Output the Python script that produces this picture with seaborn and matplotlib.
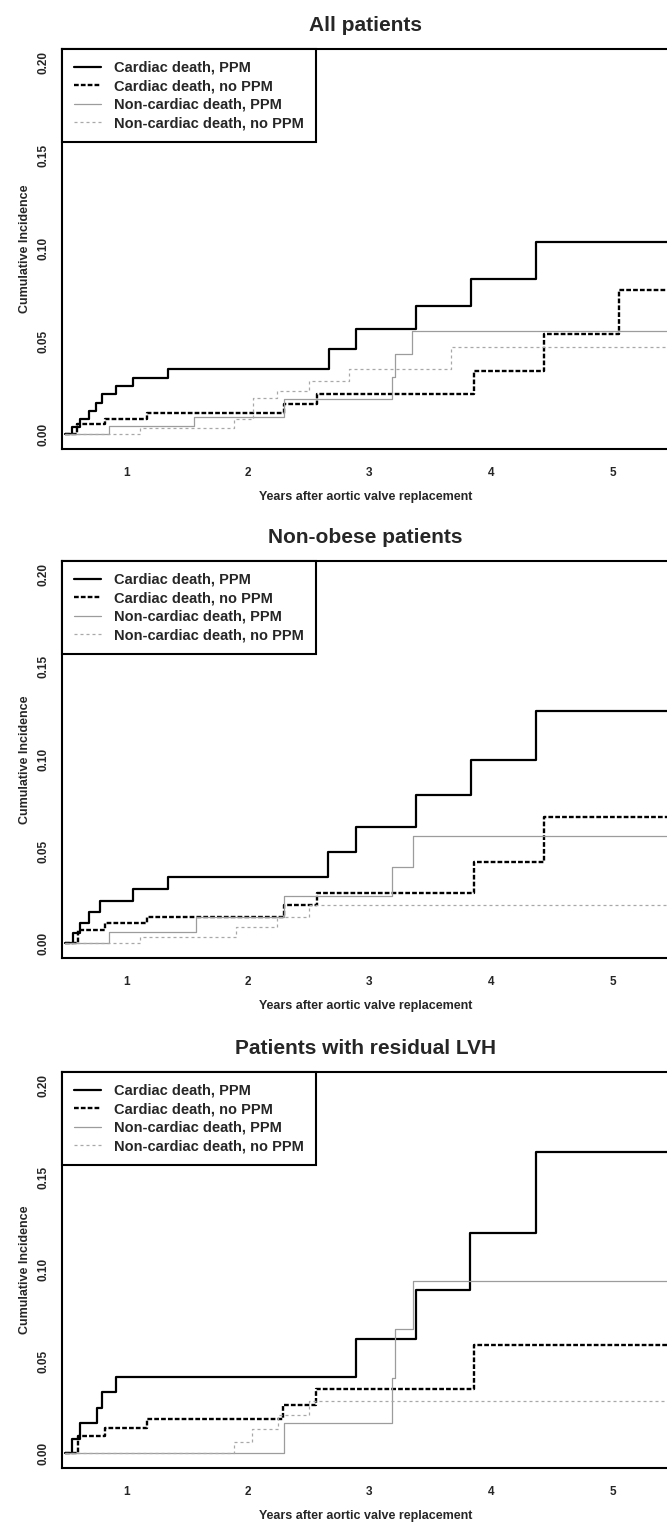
import numpy as np
import pandas as pd
import matplotlib
matplotlib.use("Agg")
import matplotlib.pyplot as plt
from matplotlib.lines import Line2D
import seaborn as sns

sns.set_style("white")
plt.rcParams['font.family'] = ['Liberation Sans', 'DejaVu Sans']
plt.rcParams['font.weight'] = 'bold'

# ---------------- data (years, cumulative incidence) ----------------
TITLES = ["All patients", "Non-obese patients", "Patients with residual LVH"]
SERIES = ["Cardiac death, PPM", "Cardiac death, no PPM",
          "Non-cardiac death, PPM", "Non-cardiac death, no PPM"]
FOLLOWUP_END = 5.6

# All patients
all_cd_ppm_t = [0.50, 0.552, 0.621, 0.695, 0.753, 0.800, 0.918, 1.052, 1.340, 2.668, 2.894, 3.388, 3.836, 4.372]
all_cd_ppm_v = [0.0, 0.0041, 0.0084, 0.0125, 0.0170, 0.0215, 0.0260, 0.0305, 0.0353, 0.0457, 0.0564, 0.0690, 0.0837, 0.1034]
all_cd_noppm_t = [0.50, 0.594, 0.827, 1.171, 2.297, 2.566, 3.863, 4.440, 5.053]
all_cd_noppm_v = [0.0, 0.0054, 0.0084, 0.0116, 0.0165, 0.0215, 0.0340, 0.0538, 0.0776]
all_ncd_ppm_t = [0.50, 0.860, 1.555, 2.297, 3.190, 3.210, 3.355]
all_ncd_ppm_v = [0.0, 0.0045, 0.0095, 0.0188, 0.0310, 0.0430, 0.0556]
all_ncd_noppm_t = [0.50, 1.110, 1.885, 2.040, 2.242, 2.503, 2.833, 3.671]
all_ncd_noppm_v = [0.0, 0.0032, 0.0080, 0.0195, 0.0233, 0.0287, 0.0353, 0.0471]

# Non-obese patients
nob_cd_ppm_t = [0.50, 0.566, 0.621, 0.695, 0.786, 1.052, 1.340, 2.663, 2.894, 3.388, 3.836, 4.372]
nob_cd_ppm_v = [0.0, 0.0054, 0.0112, 0.0170, 0.0228, 0.0294, 0.0362, 0.0494, 0.0631, 0.0805, 0.0995, 0.1260]
nob_cd_noppm_t = [0.50, 0.600, 0.827, 1.171, 2.297, 2.566, 3.863, 4.440]
nob_cd_noppm_v = [0.0, 0.0072, 0.0112, 0.0145, 0.0205, 0.0272, 0.0440, 0.0685]
nob_ncd_ppm_t = [0.50, 0.860, 1.575, 2.297, 3.190, 3.360]
nob_ncd_ppm_v = [0.0, 0.0062, 0.0143, 0.0256, 0.0413, 0.0580]
nob_ncd_noppm_t = [0.50, 1.115, 1.906, 2.242, 2.503]
nob_ncd_noppm_v = [0.0, 0.0036, 0.0087, 0.0144, 0.0209]

# Patients with residual LVH
lvh_cd_ppm_t = [0.50, 0.557, 0.621, 0.758, 0.800, 0.918, 2.888, 3.383, 3.831, 4.372]
lvh_cd_ppm_v = [0.0, 0.0080, 0.0164, 0.0244, 0.0331, 0.0413, 0.0623, 0.0886, 0.1200, 0.1640]
lvh_cd_noppm_t = [0.50, 0.607, 0.827, 1.171, 2.292, 2.558, 3.864]
lvh_cd_noppm_v = [0.0, 0.0095, 0.0135, 0.0185, 0.0261, 0.0348, 0.0587]
lvh_ncd_ppm_t = [0.50, 2.297, 3.190, 3.210, 3.363]
lvh_ncd_ppm_v = [0.0, 0.0163, 0.0410, 0.0674, 0.0937]
lvh_ncd_noppm_t = [0.50, 1.885, 2.036, 2.248, 2.503]
lvh_ncd_noppm_v = [0.0, 0.0062, 0.0130, 0.0207, 0.0284]

PANELS = [
    [(all_cd_ppm_t, all_cd_ppm_v), (all_cd_noppm_t, all_cd_noppm_v),
     (all_ncd_ppm_t, all_ncd_ppm_v), (all_ncd_noppm_t, all_ncd_noppm_v)],
    [(nob_cd_ppm_t, nob_cd_ppm_v), (nob_cd_noppm_t, nob_cd_noppm_v),
     (nob_ncd_ppm_t, nob_ncd_ppm_v), (nob_ncd_noppm_t, nob_ncd_noppm_v)],
    [(lvh_cd_ppm_t, lvh_cd_ppm_v), (lvh_cd_noppm_t, lvh_cd_noppm_v),
     (lvh_ncd_ppm_t, lvh_ncd_ppm_v), (lvh_ncd_noppm_t, lvh_ncd_noppm_v)],
]

X_TICKS = [1, 2, 3, 4, 5]
Y_TICKS = [0.00, 0.05, 0.10, 0.15, 0.20]
Y_TICKLABELS = ["0.00", "0.05", "0.10", "0.15", "0.20"]

# ---------------- styles ----------------
STYLES = [
    dict(color="black", linewidth=1.6, linestyle="-"),
    dict(color="black", linewidth=1.7, linestyle=(0, (2.0, 0.9))),
    dict(color="#9c9c9c", linewidth=0.9, linestyle="-"),
    dict(color="#a8a8a8", linewidth=0.9, linestyle=(0, (2.4, 2.4))),
]

W, H = 667, 1523
fig = plt.figure(figsize=(W / 100, H / 100), dpi=100)

# axes boxes in pixels: (left, top, right, bottom)
BOXES = [(62, 49, 669, 449), (62, 561, 669, 958), (62, 1072, 669, 1468)]

for i, (box, title, panel) in enumerate(zip(BOXES, TITLES, PANELS)):
    l, t, r, b = box
    ax = fig.add_axes([l / W, 1 - b / H, (r - l) / W, (b - t) / H])
    for (tt, vv), st in zip(panel, STYLES):
        df = pd.DataFrame({"time": list(tt) + [FOLLOWUP_END],
                           "cuminc": list(vv) + [vv[-1]]})
        sns.lineplot(data=df, x="time", y="cuminc", ax=ax, estimator=None,
                     drawstyle="steps-post", legend=False, **st)
    ax.set_xticks(X_TICKS)
    ax.set_xticklabels([str(x) for x in X_TICKS])
    ax.set_yticks(Y_TICKS)
    ax.set_yticklabels(Y_TICKLABELS, rotation=90, va="center")
    ax.set_xlim(0.472, 5.465)
    ax.set_ylim(-0.008, 0.2075)
    ax.tick_params(axis="both", direction="out", length=5.8, width=1.3,
                   labelsize=8.5, color="black")
    ax.tick_params(axis="y", pad=3.2)
    ax.tick_params(axis="x", pad=7.5)
    for sp in ax.spines.values():
        sp.set_linewidth(1.5)
        sp.set_color("black")
    ax.set_title(title, fontsize=15, fontweight="bold", pad=13)
    ax.set_xlabel("Years after aortic valve replacement", fontsize=9, fontweight="bold")
    ax.set_ylabel("Cumulative Incidence", fontsize=9, fontweight="bold")
    hpx = b - t
    ax.xaxis.set_label_coords(0.5, -(491 - 449) / hpx)
    ax.yaxis.set_label_coords(-(62 - 31) / (r - l), 0.5)

    handles = [Line2D([0], [0], **st) for st in STYLES]
    leg = ax.legend(handles, SERIES, loc="upper left", bbox_to_anchor=(0, 1),
                    borderaxespad=0, frameon=True, fancybox=False, framealpha=1,
                    edgecolor="black", prop=dict(size=10.5, weight="bold"),
                    handlelength=1.9, handletextpad=0.9, labelspacing=0.31,
                    borderpad=0.8)
    leg.get_frame().set_linewidth(1.5)

fig.savefig("out.png", dpi=100, facecolor="white")
